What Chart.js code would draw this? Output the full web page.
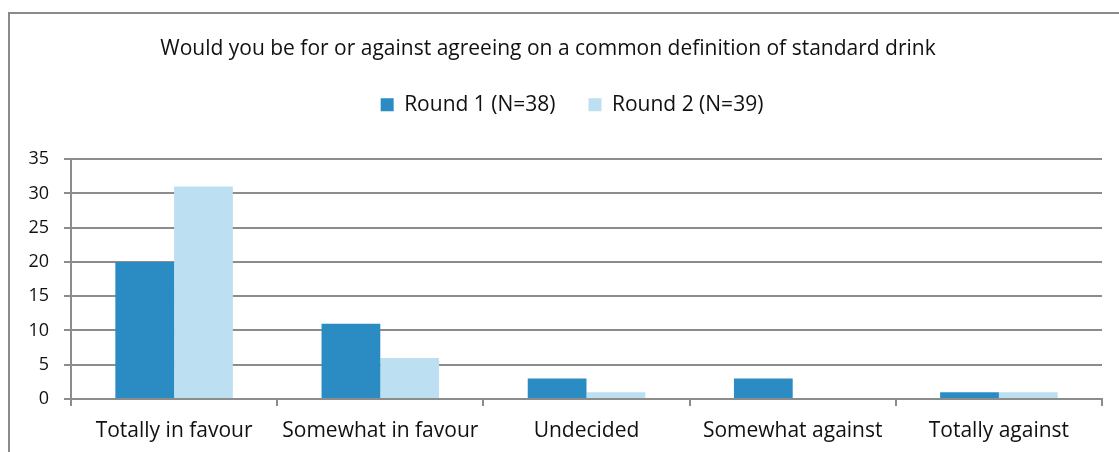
<!DOCTYPE html>
<html>
<head>
<meta charset="utf-8">
<script src="https://cdn.jsdelivr.net/npm/chart.js@4"></script>
<style>
    html, body { margin: 0; padding: 0; background: #fff; }
    #wrap { position: relative; width: 1119px; height: 452px; }
    #frame {
        position: absolute; left: 8px; top: 12px; right: -5px; bottom: -5px;
        border-left: 2px solid #8a8a8a; border-top: 2px solid #8a8a8a;
    }
    canvas { position: absolute; left: 0; top: 0; }
</style>
</head>
<body>
<div id="wrap">
    <div id="frame"></div>
    <canvas id="myChart" width="1119" height="452"></canvas>
</div>
<script>
const categories = ["Totally in favour", "Somewhat in favour", "Undecided", "Somewhat against", "Totally against"];
const round1 = [20, 11, 3, 3, 1];
const round2 = [31, 6, 1, 0, 1];
const seriesNames = ["Round 1 (N=38)", "Round 2 (N=39)"];
const titleText = "Would you be for or against agreeing on a common definition of standard drink";

const FONT = "'Open Sans', 'Noto Sans', sans-serif";
const gridColor = "#8c8c8c";

// nudge title / legend sideways (the original isn't centred on the canvas)
// and leave a bigger gap under the legend
const shiftBoxes = {
    id: "shiftBoxes",
    beforeUpdate(chart) {
        const lg = chart.legend;
        if (lg && !lg._extraGap) {
            const fit = lg.fit;
            lg.fit = function () {
                fit.call(this);
                this.height += 34;
            };
            lg._extraGap = true;
        }
    },
    afterLayout(chart) {
        if (chart.titleBlock) {
            chart.titleBlock.left -= 8;
            chart.titleBlock.right -= 8;
        }
        if (chart.legend) {
            chart.legend.left += 16;
            chart.legend.right += 16;
        }
    },
};

const data = {
    labels: categories,
    datasets: [
        {
            label: seriesNames[0],
            data: round1,
            backgroundColor: "#2b8cc4",
            categoryPercentage: 0.57,
            barPercentage: 1.0,
        },
        {
            label: seriesNames[1],
            data: round2,
            backgroundColor: "#bcdff1",
            categoryPercentage: 0.57,
            barPercentage: 1.0,
        },
    ],
};

const config = {
    type: "bar",
    data: data,
    options: {
        responsive: false,
        animation: false,
        layout: { padding: { left: 10, right: 17, top: 0, bottom: 0 } },
        plugins: {
            title: {
                display: true,
                text: titleText,
                color: "#111",
                font: { family: FONT, size: 21, weight: "normal" },
                padding: { top: 36, bottom: 0 },
            },
            legend: {
                display: true,
                labels: {
                    color: "#111",
                    font: { family: FONT, size: 21 },
                    boxWidth: 13,
                    boxHeight: 13,
                    padding: 33,
                },
            },
            tooltip: { enabled: false },
        },
        scales: {
            y: {
                min: 0,
                max: 35,
                ticks: {
                    stepSize: 5,
                    color: "#111",
                    font: { family: FONT, size: 18 },
                    padding: 15,
                },
                grid: { color: gridColor, lineWidth: 2, tickLength: 7 },
                border: { color: gridColor, width: 2 },
                afterFit(scale) { scale.width = 61; },
            },
            x: {
                ticks: {
                    color: "#111",
                    font: { family: FONT, size: 21 },
                    padding: 12,
                },
                grid: { color: gridColor, lineWidth: 2, tickLength: 7, drawOnChartArea: false, offset: true },
                border: { color: gridColor, width: 2 },
                afterFit(scale) { scale.height = 53; },
            },
        },
    },
    plugins: [shiftBoxes],
};

document.addEventListener("DOMContentLoaded", function () {
    const ctx = document.getElementById("myChart").getContext("2d");
    const myChart = new Chart(ctx, config);
});
</script>
</body>
</html>
